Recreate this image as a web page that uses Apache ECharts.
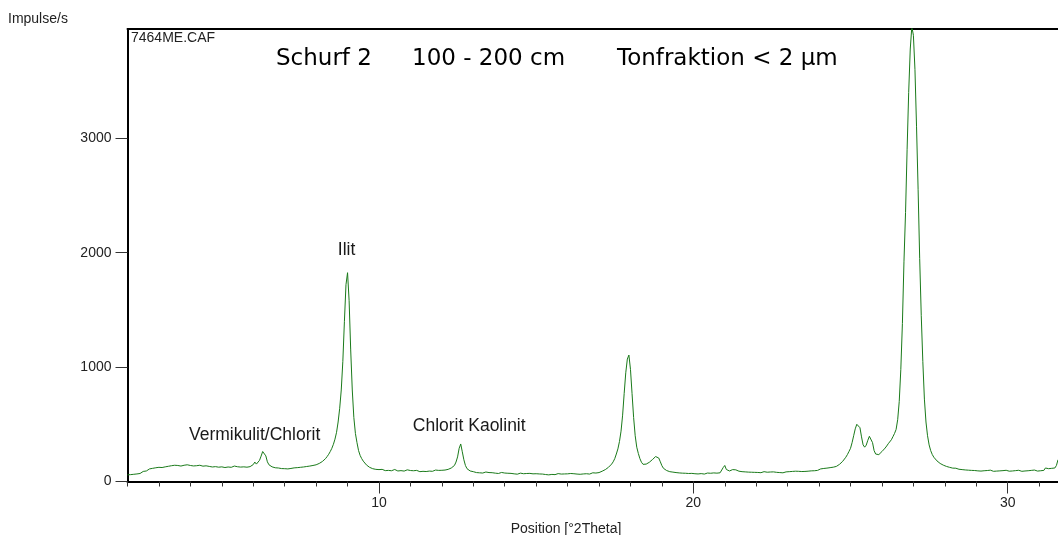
<!DOCTYPE html>
<html>
<head>
<meta charset="utf-8">
<script src="https://cdn.jsdelivr.net/npm/echarts@6/dist/echarts.min.js"></script>
<style>
html,body{margin:0;padding:0;background:#fff;}
#chart{width:1058px;height:535px;}
</style>
</head>
<body>
<div id="chart"></div>
<script>
// Scan grid (°2Theta)
const scanStep = 0.05;
// Intensities (Impulse/s), by 5° blocks
const counts2to6 = [ // start 2.00
  58,52,60,55,63,58,66,72,70,80,88,95,92,104,110,106,115,112,120,118,
  124,130,122,135,128,140,133,145,138,150,142,155,140,148,135,150,142,138,146,134,
  140,128,136,125,138,130,142,126,134,129,137,124,132,140,127,135,130,138,125,133,
  128,136,122,131,127,138,124,130,135,121,129,134,126,132,128,137,125,133,130,140,
  148,170,152,162,185,222,262,276,224,172,146,136,128,134,120,127,118,124,113,121
];
const counts7to11 = [ // start 7.00
  112,120,110,118,114,108,119,113,121,116,124,118,127,122,131,126,135,130,140,136,
  146,152,158,166,175,188,200,218,238,262,290,325,370,430,520,640,800,1050,1400,1720,
  1825,1580,1150,800,560,420,340,270,228,200,178,162,145,138,124,120,112,115,106,110,
  104,98,106,100,95,103,97,101,94,99,105,96,92,100,95,98,91,97,102,94,
  96,90,94,88,97,92,86,95,89,93,87,96,91,98,89,94,100,92,97,103
];
const counts12to16 = [ // start 12.00
  98,104,100,108,106,112,118,125,140,170,215,290,328,260,190,140,112,97,92,88,
  86,82,78,84,76,80,74,79,83,75,78,72,77,81,73,76,70,75,79,72,
  74,68,72,66,71,75,67,70,64,69,73,65,68,62,70,66,71,63,67,64,
  68,62,66,60,65,70,61,64,58,66,62,67,60,64,69,61,65,59,66,63,
  67,62,70,64,68,73,65,69,63,71,66,74,68,72,65,70,76,69,74,71
];
const counts17to21 = [ // start 17.00
  78,84,90,96,104,112,124,136,152,172,200,240,285,350,440,580,770,950,1070,1105,
  980,770,560,400,300,245,200,168,150,148,152,160,168,178,192,208,218,222,205,172,
  138,115,104,96,92,86,88,82,84,78,80,75,79,73,77,72,76,70,74,71,
  73,68,72,66,74,69,71,65,70,74,67,72,68,75,70,73,69,76,88,122,
  140,105,88,92,98,104,110,102,96,90,93,86,90,84,88,82,87,81,85,80
];
const counts22to26 = [ // start 22.00
  84,79,83,77,82,86,78,81,76,83,79,84,77,80,85,78,82,76,81,84,
  80,86,82,88,84,90,85,89,94,87,92,88,95,90,97,93,99,94,101,97,
  104,110,118,114,122,117,126,121,130,125,135,132,142,150,162,176,192,212,235,262,
  290,340,400,460,500,515,470,390,320,300,318,360,395,405,340,270,240,228,235,248,
  262,278,292,310,330,345,365,392,420,455,540,700,980,1380,1920,2350,2900,3400,3780,3975
];
const counts27to31 = [ // start 27.00
  3900,3600,3100,2550,1950,1450,1050,720,520,400,320,270,236,212,195,180,168,158,150,143,
  138,132,128,124,120,117,113,116,110,107,112,104,108,101,106,99,103,97,102,96,
  99,93,97,91,98,94,90,96,92,99,94,89,95,91,97,93,88,95,92,98,
  94,90,97,92,88,95,91,98,93,89,96,92,99,94,90,97,93,100,95,91,
  98,94,102,97,118,126,112,120,115,122,118,140,190
];
const blocks = [[2, counts2to6],[7, counts7to11],[12, counts12to16],[17, counts17to21],[22, counts22to26],[27, counts27to31]];

const xMin = 2, xMax = 31.6;
const yMin = 0, yMax = 3955;
const xLabelValues = [10, 20, 30];
const yLabelValues = [0, 1000, 2000, 3000];
const xMinorTicks = [];
for (let t = 2; t <= 31; t++) xMinorTicks.push(t);

const titleTexts = ['Schurf 2', '100 - 200 cm', 'Tonfraktion < 2 µm'];
const peakLabelTexts = ['Vermikulit/Chlorit', 'Ilit', 'Chlorit Kaolinit'];
const peakLabelAngles = [6.045, 8.97, 12.87];
const peakLabelLevels = [405, 2020, 482];

const seriesData = [];
blocks.forEach(([start, arr]) => {
  arr.forEach((v, i) => {
    seriesData.push([+(start + i * scanStep).toFixed(2), v]);
  });
});

const FONT = '"Liberation Sans", Arial, sans-serif';
const TFONT = '"DejaVu Sans", sans-serif';
const chart = echarts.init(document.getElementById('chart'), null, {renderer: 'canvas'});

const gridLeft = 127.5, gridTop = 29, gridBottom = 535 - 481.5, gridRight = 0;

chart.setOption({
  animation: false,
  backgroundColor: '#fff',
  grid: {left: gridLeft, top: gridTop, right: gridRight, bottom: gridBottom, containLabel: false},
  xAxis: [
    {
      type: 'value', min: xMin, max: xMax, position: 'bottom',
      axisLine: {show: true, onZero: false, lineStyle: {color: '#000', width: 2}},
      axisTick: {show: true, customValues: xMinorTicks, length: 5, lineStyle: {color: '#333', width: 1}},
      axisLabel: {show: false},
      splitLine: {show: false}
    },
    {
      type: 'value', min: xMin, max: xMax, position: 'bottom',
      axisLine: {show: false, onZero: false},
      axisTick: {show: true, customValues: xLabelValues, length: 12, lineStyle: {color: '#333', width: 1}},
      axisLabel: {show: true, customValues: xLabelValues, margin: 15, color: '#222', fontSize: 14, fontFamily: FONT,
        formatter: v => String(v)},
      splitLine: {show: false}
    },
    {
      type: 'value', min: xMin, max: xMax, position: 'top',
      axisLine: {show: true, onZero: false, lineStyle: {color: '#000', width: 2}},
      axisTick: {show: false}, axisLabel: {show: false}, splitLine: {show: false}
    }
  ],
  yAxis: [{
    type: 'value', min: yMin, max: yMax,
    axisLine: {show: true, onZero: false, lineStyle: {color: '#000', width: 2}},
    axisTick: {show: true, customValues: yLabelValues, length: 12, lineStyle: {color: '#333', width: 1}},
    axisLabel: {show: true, customValues: yLabelValues, margin: 16, color: '#222', fontSize: 14, fontFamily: FONT,
      formatter: v => String(v)},
    splitLine: {show: false}
  }],
  series: [{
    type: 'line',
    xAxisIndex: 0, yAxisIndex: 0,
    data: seriesData,
    showSymbol: false, symbol: 'none',
    sampling: 'none',
    clip: true,
    lineStyle: {color: '#1a7a1a', width: 1},
    silent: true
  }, {
    type: 'scatter',
    xAxisIndex: 0, yAxisIndex: 0,
    silent: true,
    symbol: 'rect',
    symbolSize: 1,
    itemStyle: {color: 'rgba(0,0,0,0)'},
    label: {show: true, position: 'inside', formatter: p => p.name, color: '#1a1a1a', opacity: 1, fontSize: 17.5, fontFamily: FONT},
    data: peakLabelTexts.map((t, i) => ({name: t, value: [peakLabelAngles[i], peakLabelLevels[i]]}))
  }],
  graphic: [
    {type: 'text', left: 8, top: 12, style: {text: 'Impulse/s', fill: '#222', font: '14px ' + FONT}},
    {type: 'text', left: 131, top: 31, style: {text: '7464ME.CAF', fill: '#222', font: '14px ' + FONT}},
    {type: 'text', x: 276, y: 59, style: {text: titleTexts[0], fill: '#000', font: '23px ' + TFONT, verticalAlign: 'middle'}},
    {type: 'text', x: 412, y: 59, style: {text: titleTexts[1], fill: '#000', font: '23px ' + TFONT, verticalAlign: 'middle'}},
    {type: 'text', x: 617, y: 59, style: {text: titleTexts[2], fill: '#000', font: '23px ' + TFONT, verticalAlign: 'middle'}},
    {type: 'text', x: 566, y: 529, style: {text: 'Position [°2Theta]', fill: '#222', font: '14px ' + FONT, align: 'center', verticalAlign: 'middle'}}
  ]
});
</script>
</body>
</html>
